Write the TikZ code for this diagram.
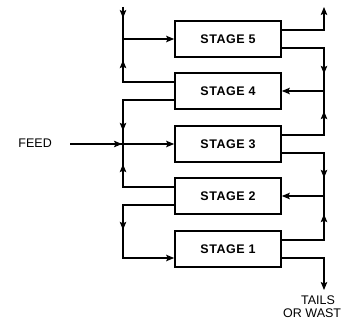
\documentclass[tikz,border=0pt]{standalone}
\usepackage{fontspec}
\setmainfont{Liberation Sans}
\newfontfamily\stagefont[LetterSpace=4]{Liberation Sans}
\usetikzlibrary{arrows.meta,decorations.markings,calc}

\tikzset{
  tip/.tip={Stealth[length=8pt,width=6.5pt,inset=1.5pt]},
  stagebox/.style={draw, line width=1.7pt, minimum width=106pt, minimum height=36pt,
    inner sep=0pt, font=\stagefont\fontsize{12.5}{12.5}\selectfont\bfseries},
  conn/.style={line width=1.1pt},
  arrowat/.style={postaction={decorate},
    decoration={markings, mark=at position #1pt with {\arrow{tip}}}},
  lbl/.style={inner sep=0pt, font=\fontsize{12.5}{12.5}\selectfont},
}

\begin{document}
\begin{tikzpicture}[x=1pt, y=-1pt]
\useasboundingbox (0,0) rectangle (345,321);

% stages, bottom to top
\node[stagebox] (s5) at (228,39)  {STAGE 5};
\node[stagebox] (s4) at (228,91)  {STAGE 4};
\node[stagebox] (s3) at (228,144) {STAGE 3};
\node[stagebox] (s2) at (228,196) {STAGE 2};
\node[stagebox] (s1) at (228,249) {STAGE 1};

% left and right collecting lines, open ends
\coordinate (lx) at (123,0);
\coordinate (rx) at (324,0);
\coordinate (topin) at (123,7);
\coordinate (topout) at (324,7);
\coordinate (tailsend) at (324,290);
\coordinate (s1in) at ([yshift=-9pt]s1.west);

% labels
\node[lbl, anchor=east] (feed) at (52,143) {FEED};
\coordinate (feedstart) at (70,144);
\node[lbl] (tails) at (318,300) {TAILS};
\node[lbl, anchor=west] (waste) at (283,313.5) {OR WAST};

% left side
\draw[conn, arrowat=11, -tip] (topin) -- (topin |- s5.west) -- (s5.west);
\draw[conn, arrowat=73] ([yshift=9pt]s4.west) -| (lx |- s5.west);
\draw[conn, arrowat=82] ([yshift=-9pt]s4.west) -| (lx |- s3.west);
\draw[conn, arrowat=52, -tip] (feedstart) -- (lx |- s3.west) -- (s3.west);
\draw[conn, arrowat=74] ([yshift=9pt]s2.west) -| (lx |- s3.west);
\draw[conn, arrowat=76, -tip] ([yshift=-9pt]s2.west) -| (lx |- s1in) -- (s1in);

% right side
\draw[conn, -tip] ([yshift=9pt]s5.east) -| (topout);
\draw[conn, arrowat=68, -tip] ([yshift=-9pt]s5.east) -| (rx |- s4.east) -- (s4.east);
\draw[conn, arrowat=66] ([yshift=9pt]s3.east) -| (rx |- s4.east);
\draw[conn, arrowat=67, -tip] ([yshift=-9pt]s3.east) -| (rx |- s2.east) -- (s2.east);
\draw[conn, arrowat=68] ([yshift=9pt]s1.east) -| (rx |- s2.east);
\draw[conn, -tip] ([yshift=-9pt]s1.east) -| (tailsend);
\end{tikzpicture}
\end{document}
